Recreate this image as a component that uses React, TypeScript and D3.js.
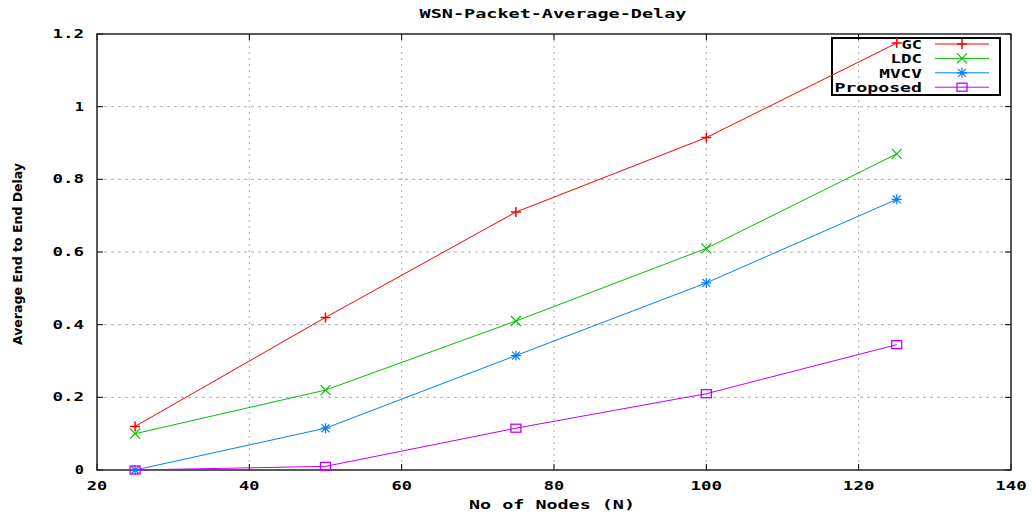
import React from 'react';
import * as d3 from 'd3';

const nodes = [25, 50, 75, 100, 125];
const gc = [0.12, 0.42, 0.71, 0.915, 1.175];
const ldc = [0.10, 0.22, 0.41, 0.61, 0.87];
const mvcv = [0.0, 0.115, 0.315, 0.515, 0.745];
const proposed = [0.0, 0.01, 0.115, 0.21, 0.345];
const xTicks = [20, 40, 60, 80, 100, 120, 140];
const yTicks = [0, 0.2, 0.4, 0.6, 0.8, 1, 1.2];

const series = [
  { name: 'GC', values: gc, color: '#ff0000', marker: 'plus' },
  { name: 'LDC', values: ldc, color: '#00c000', marker: 'cross' },
  { name: 'MVCV', values: mvcv, color: '#0080ff', marker: 'star' },
  { name: 'Proposed', values: proposed, color: '#c000ff', marker: 'square' },
];

const W = 1036, H = 515;
const left = 97, right = 1011, top = 34, bottom = 470;
const font = '"DejaVu Sans Mono", monospace';
const CH = 11.2; // gnuplot's wide bitmap font, per-character advance

// wide pixel-ish text: stretch mono glyphs to the reference advance
function T({ x, y, anchor = 'start', children }: { x: number; y: number; anchor?: string; children: string }) {
  const len = children.length * CH - 2;
  return (
    <text x={x} y={y} textAnchor={anchor} fontFamily={font} fontWeight="bold" fontSize={12}
      textLength={len} lengthAdjust="spacingAndGlyphs">{children}</text>
  );
}

function Marker({ type, x, y, color }: { type: string; x: number; y: number; color: string }) {
  const s = 5;
  if (type === 'plus')
    return <path d={`M${x - s},${y}H${x + s}M${x},${y - s}V${y + s}`} stroke={color} strokeWidth={1.5} />;
  if (type === 'cross')
    return <path d={`M${x - s},${y - s}L${x + s},${y + s}M${x - s},${y + s}L${x + s},${y - s}`} stroke={color} strokeWidth={1.2} />;
  if (type === 'star')
    return <path d={`M${x - s},${y}H${x + s}M${x},${y - s}V${y + s}M${x - 4},${y - 4}L${x + 4},${y + 4}M${x - 4},${y + 4}L${x + 4},${y - 4}`} stroke={color} strokeWidth={1.2} />;
  return <rect x={x - 5} y={y - 4} width={10} height={8} fill="none" stroke={color} strokeWidth={1.3} />;
}

export default function App() {
  const x = d3.scaleLinear().domain([20, 140]).range([left, right]);
  const y = d3.scaleLinear().domain([0, 1.2]).range([bottom, top]);
  const line = d3.line<number>().x((_, i) => x(nodes[i])).y(d => y(d));

  return (
    <svg width={W} height={H} style={{ position: 'absolute', left: 0, top: 0, background: '#fff' }}>
      <T x={553} y={18} anchor="middle">WSN-Packet-Average-Delay</T>
      {xTicks.slice(1, -1).map(t => (
        <line key={'gx' + t} x1={x(t)} x2={x(t)} y1={top} y2={bottom} stroke="#aaa" strokeDasharray="2,4" />
      ))}
      {yTicks.slice(1, -1).map(t => (
        <line key={'gy' + t} x1={left} x2={right} y1={y(t)} y2={y(t)} stroke="#aaa" strokeDasharray="3,4" />
      ))}
      {xTicks.map(t => (
        <g key={'tx' + t}>
          <line x1={x(t)} x2={x(t)} y1={bottom} y2={bottom - 6} stroke="#000" />
          <line x1={x(t)} x2={x(t)} y1={top} y2={top + 6} stroke="#000" />
          <T x={x(t)} y={bottom + 20} anchor="middle">{String(t)}</T>
        </g>
      ))}
      {yTicks.map(t => (
        <g key={'ty' + t}>
          <line x1={left} x2={left + 6} y1={y(t)} y2={y(t)} stroke="#000" />
          <line x1={right} x2={right - 6} y1={y(t)} y2={y(t)} stroke="#000" />
          <T x={84} y={y(t) + 4} anchor="end">{String(t)}</T>
        </g>
      ))}
      <rect x={left} y={top} width={right - left} height={bottom - top} fill="none" stroke="#222" strokeWidth={1.5} />
      <rect x={832} y={38} width={168} height={57} fill="none" stroke="#000" strokeWidth={2} />
      {series.map((s, i) => {
        const ly = 44 + i * 14.4;
        return (
          <g key={'l' + s.name}>
            <T x={922} y={ly + 5} anchor="end">{s.name}</T>
            <line x1={935} x2={989} y1={ly} y2={ly} stroke={s.color} strokeWidth={1} />
            <Marker type={s.marker} x={962} y={ly} color={s.color} />
          </g>
        );
      })}
      {series.map(s => (
        <g key={s.name}>
          <path d={line(s.values) || ''} fill="none" stroke={s.color} strokeWidth={1} />
          {s.values.map((v, i) => <Marker key={i} type={s.marker} x={x(nodes[i])} y={y(v)} color={s.color} />)}
        </g>
      ))}
      <text transform={`translate(22,254) rotate(-90)`} textAnchor="middle" fontFamily='"DejaVu Sans Condensed", sans-serif'
        fontWeight="bold" fontSize={13} textLength={182} lengthAdjust="spacingAndGlyphs">Average End to End Delay</text>
      <T x={552} y={509} anchor="middle">No of Nodes (N)</T>
    </svg>
  );
}
